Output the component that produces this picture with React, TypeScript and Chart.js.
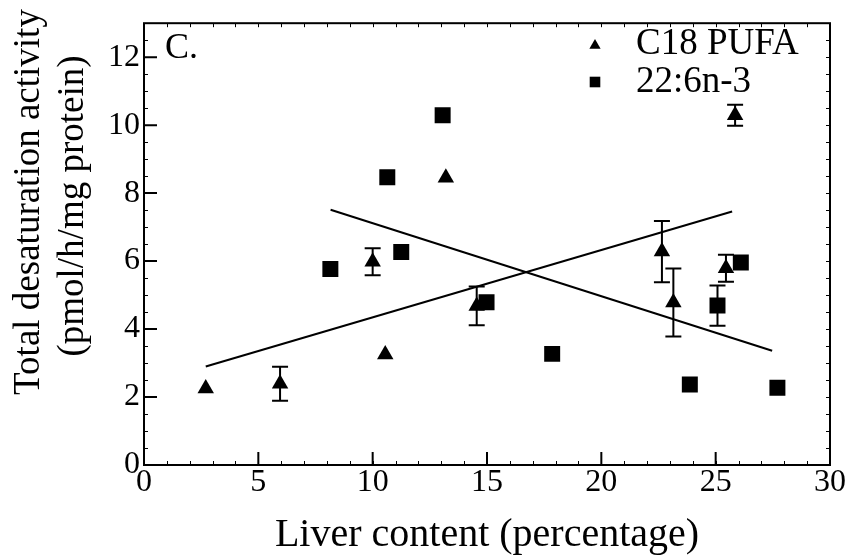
import React, { useEffect, useRef } from 'react';
import { Chart, registerables } from 'chart.js';

Chart.register(...registerables);

const X_TICKS = [0, 5, 10, 15, 20, 25, 30];
const Y_TICKS = [0, 2, 4, 6, 8, 10, 12];

const PUFA_X = [2.7, 5.95, 10.0, 10.55, 13.2, 14.55, 22.65, 23.15, 25.45, 25.85];
const PUFA_Y = [2.25, 2.39, 5.98, 3.25, 8.45, 4.68, 6.28, 4.78, 5.79, 10.29];
const PUFA_ERR = [0, 0.5, 0.4, 0, 0, 0.57, 0.9, 1.0, 0.4, 0.31];

const DHA_X = [8.15, 10.64, 11.25, 13.06, 14.98, 17.85, 23.87, 25.08, 26.1, 27.7];
const DHA_Y = [5.77, 8.47, 6.27, 10.29, 4.79, 3.27, 2.37, 4.69, 5.96, 2.27];
const DHA_ERR = [0, 0, 0, 0, 0, 0, 0, 0.59, 0, 0];

const PUFA_FIT_X = [2.7, 25.72];
const PUFA_FIT_Y = [2.9, 7.46];
const DHA_FIT_X = [8.16, 27.47];
const DHA_FIT_Y = [7.51, 3.36];

const SERIES_NAMES = ['C18 PUFA', '22:6n-3'];
const PANEL_LABEL = 'C.';
const X_TITLE = 'Liver content (percentage)';
const Y_TITLE = ['Total desaturation activity', '(pmol/h/mg protein)'];

const FONT = '"Liberation Serif", "Times New Roman", serif';

const toPoints = (xs: number[], ys: number[]) => xs.map((x, i) => ({ x, y: ys[i] }));

const decorPlugin = {
  id: 'decor',
  afterDatasetsDraw(chart: any) {
    const { ctx, chartArea, scales } = chart;
    const xs = scales.x;
    const ys = scales.y;
    ctx.save();
    ctx.strokeStyle = '#000';
    ctx.lineWidth = 2;
    const drawErr = (X: number[], Y: number[], E: number[]) => {
      X.forEach((x, i) => {
        const e = E[i];
        if (!e) return;
        const px = xs.getPixelForValue(x);
        const top = ys.getPixelForValue(Y[i] + e);
        const bot = ys.getPixelForValue(Y[i] - e);
        ctx.beginPath();
        ctx.moveTo(px, top);
        ctx.lineTo(px, bot);
        ctx.moveTo(px - 8, top);
        ctx.lineTo(px + 8, top);
        ctx.moveTo(px - 8, bot);
        ctx.lineTo(px + 8, bot);
        ctx.stroke();
      });
    };
    drawErr(PUFA_X, PUFA_Y, PUFA_ERR);
    drawErr(DHA_X, DHA_Y, DHA_ERR);

    const { left, right, top, bottom } = chartArea;
    ctx.lineWidth = 2;
    ctx.strokeRect(left, top, right - left, bottom - top);

    ctx.beginPath();
    X_TICKS.forEach((v) => {
      const px = xs.getPixelForValue(v);
      ctx.moveTo(px, bottom);
      ctx.lineTo(px, bottom - 13);
    });
    Y_TICKS.forEach((v) => {
      const py = ys.getPixelForValue(v);
      ctx.moveTo(left, py);
      ctx.lineTo(left + 13, py);
    });
    ctx.stroke();
    ctx.lineWidth = 1;
    ctx.beginPath();
    for (let v = xs.min; v <= xs.max; v += 1) {
      const px = Math.round(xs.getPixelForValue(v)) + 0.5;
      ctx.moveTo(px, bottom);
      ctx.lineTo(px, bottom - 4);
      ctx.moveTo(px, top);
      ctx.lineTo(px, top + 4);
    }
    for (let v = ys.min; v <= ys.max + 1e-9; v += 0.5) {
      const py = Math.round(ys.getPixelForValue(v)) + 0.5;
      ctx.moveTo(left, py);
      ctx.lineTo(left + 4, py);
      ctx.moveTo(right, py);
      ctx.lineTo(right - 4, py);
    }
    ctx.stroke();

    ctx.fillStyle = '#000';
    ctx.font = `36px ${FONT}`;
    ctx.textAlign = 'left';
    ctx.textBaseline = 'alphabetic';
    ctx.fillText(PANEL_LABEL, 165, 58);

    const styles = ['triangle', 'rect'];
    const radii = [6.5, 7.5];
    const ys2 = [44, 82];
    const bases = [54, 92];
    SERIES_NAMES.forEach((name, i) => {
      ctx.save();
      ctx.fillStyle = '#000';
      ctx.beginPath();
      if (styles[i] === 'triangle') {
        const r = radii[i];
        const cx = 595, cy = ys2[i] + 1.5;
        ctx.moveTo(cx, cy - r);
        ctx.lineTo(cx + r * 0.866, cy + r / 2);
        ctx.lineTo(cx - r * 0.866, cy + r / 2);
        ctx.closePath();
      } else {
        const s = radii[i] * Math.SQRT1_2;
        ctx.rect(595 - s, ys2[i] - s, 2 * s, 2 * s);
      }
      ctx.fill();
      ctx.restore();
      ctx.font = `37px ${FONT}`;
      ctx.fillText(name, 636, bases[i]);
    });

    ctx.font = `40px ${FONT}`;
    ctx.textAlign = 'center';
    ctx.fillText(X_TITLE, (left + right) / 2, 546);

    ctx.font = `37px ${FONT}`;
    const yPos = [
      [39, 202],
      [83, 206],
    ];
    Y_TITLE.forEach((t, i) => {
      ctx.save();
      ctx.translate(yPos[i][0], yPos[i][1]);
      ctx.rotate(-Math.PI / 2);
      ctx.fillText(t, 0, 0);
      ctx.restore();
    });
    ctx.restore();
  },
};

export default function App() {
  const ref = useRef<HTMLCanvasElement | null>(null);
  useEffect(() => {
    document.body.style.margin = '0';
    if (!ref.current) return;
    const chart = new Chart(ref.current, {
      type: 'scatter',
      data: {
        datasets: [
          {
            label: SERIES_NAMES[0],
            data: toPoints(PUFA_X, PUFA_Y),
            pointStyle: 'triangle',
            pointRadius: 9.5,
            backgroundColor: '#000',
            borderColor: '#000',
            borderWidth: 0,
          },
          {
            label: SERIES_NAMES[1],
            data: toPoints(DHA_X, DHA_Y),
            pointStyle: 'rect',
            pointRadius: 11.3,
            backgroundColor: '#000',
            borderColor: '#000',
            borderWidth: 0,
          },
          {
            type: 'line',
            label: 'fit1',
            data: toPoints(PUFA_FIT_X, PUFA_FIT_Y),
            borderColor: '#000',
            borderWidth: 2,
            pointRadius: 0,
            showLine: true,
            fill: false,
          } as any,
          {
            type: 'line',
            label: 'fit2',
            data: toPoints(DHA_FIT_X, DHA_FIT_Y),
            borderColor: '#000',
            borderWidth: 2,
            pointRadius: 0,
            showLine: true,
            fill: false,
          } as any,
        ],
      },
      options: {
        animation: false,
        responsive: true,
        maintainAspectRatio: false,
        layout: { padding: { left: 0, top: 12, right: 21, bottom: 0 } },
        plugins: {
          legend: { display: false },
          tooltip: { enabled: false },
        },
        scales: {
          x: {
            type: 'linear',
            min: 0,
            max: 30,
            afterFit: (s: any) => {
              s.height = 91;
            },
            afterBuildTicks: (s: any) => {
              s.ticks = X_TICKS.map((v) => ({ value: v }));
            },
            ticks: {
              color: '#000',
              font: { family: FONT, size: 32 },
              padding: -2,
              maxRotation: 0,
            },
            grid: { display: false, drawTicks: false },
            border: { display: false },
          },
          y: {
            type: 'linear',
            min: 0,
            max: 13,
            afterFit: (s: any) => {
              s.width = 144;
            },
            afterBuildTicks: (s: any) => {
              s.ticks = Y_TICKS.map((v) => ({ value: v }));
            },
            ticks: {
              color: '#000',
              font: { family: FONT, size: 32 },
              padding: 4,
            },
            grid: { display: false, drawTicks: false },
            border: { display: false },
          },
        },
      },
      plugins: [decorPlugin],
    });
    return () => chart.destroy();
  }, []);
  return (
    <div style={{ width: 851, height: 556, position: 'relative' }}>
      <canvas ref={ref} />
    </div>
  );
}
